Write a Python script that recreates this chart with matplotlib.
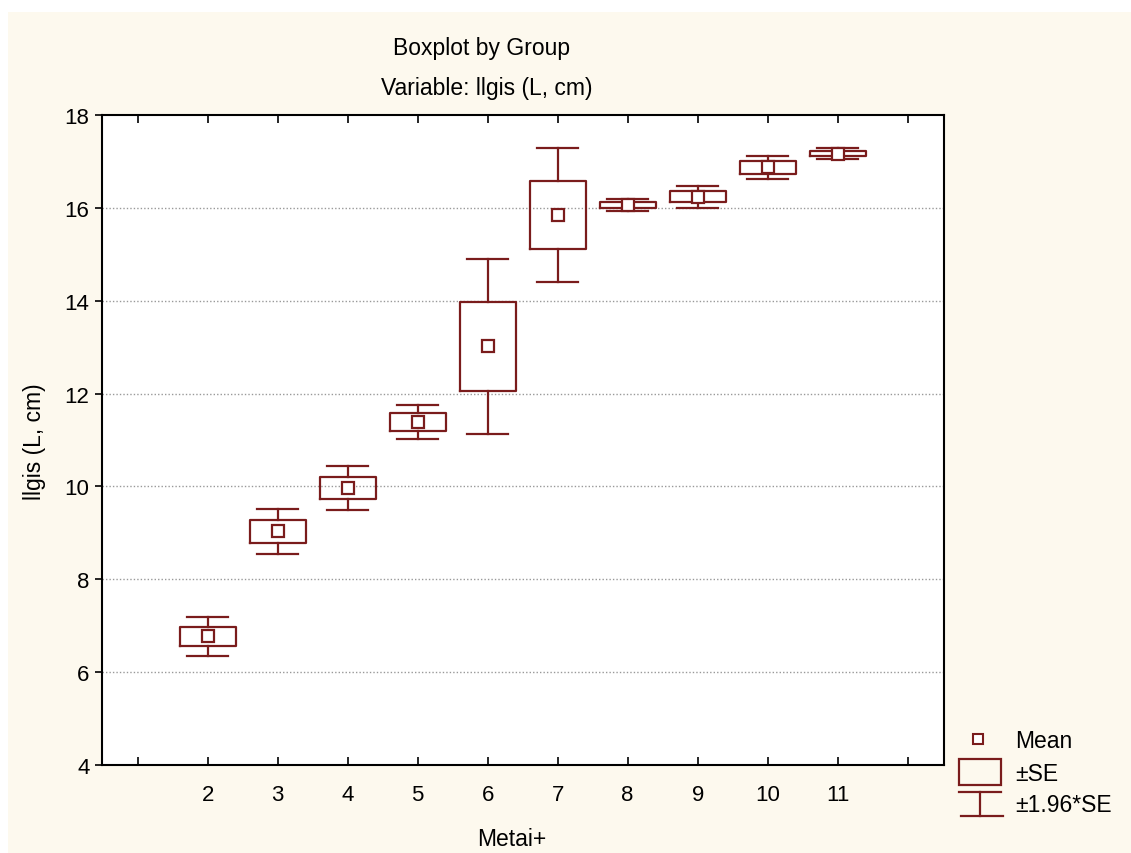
import matplotlib
matplotlib.use("Agg")
import matplotlib.pyplot as plt
from matplotlib.patches import Rectangle
from matplotlib.lines import Line2D

plt.rcParams['font.family'] = ['Liberation Sans', 'DejaVu Sans']

# data: group means and standard errors
groups = [2, 3, 4, 5, 6, 7, 8, 9, 10, 11]
means = [6.77, 9.03, 9.97, 11.39, 13.02, 15.84, 16.06, 16.24, 16.87, 17.17]
se = [0.21, 0.25, 0.24, 0.19, 0.96, 0.735, 0.07, 0.12, 0.13, 0.06]

title = "Boxplot by Group"
subtitle = "Variable: llgis (L, cm)"
xlabel = "Metai+"
ylabel = "llgis (L, cm)"

col = '#7a1c1c'
W, H = 1131, 854

fig = plt.figure(figsize=(W / 100, H / 100), dpi=100, facecolor='white')
fig.patches.append(Rectangle((8 / W, 0), 1, 1 - 13 / H, transform=fig.transFigure,
                             facecolor='#fdf9ee', edgecolor='none', zorder=-10))

ax = fig.add_axes([102 / W, (H - 766) / H, (944 - 102) / W, (766 - 116) / H])
ax.set_facecolor('white')

stats = []
for g, m, s in zip(groups, means, se):
    stats.append(dict(med=m, mean=m, q1=m - s, q3=m + s,
                      whislo=m - 1.96 * s, whishi=m + 1.96 * s, fliers=[]))

ax.bxp(stats, positions=groups, widths=0.8, capwidths=0.59, showmeans=True,
       showfliers=False, manage_ticks=False,
       boxprops=dict(color=col, linewidth=1.6),
       whiskerprops=dict(color=col, linewidth=1.6),
       capprops=dict(color=col, linewidth=1.6),
       medianprops=dict(linewidth=0),
       meanprops=dict(marker='s', markerfacecolor='white', markeredgecolor=col,
                      markersize=9, markeredgewidth=1.6))

ax.set_xlim(0.49, 12.52)
ax.set_ylim(4, 18)
ax.set_yticks(range(4, 19, 2))
ax.set_xticks(range(1, 13))
ax.set_xticklabels([''] + [str(g) for g in groups] + [''])
for y in range(6, 18, 2):
    ax.axhline(y, color='#999999', linestyle=(0, (1, 1.5)), linewidth=1, zorder=0)

for sp in ax.spines.values():
    sp.set_color('black')
    sp.set_linewidth(1.5)
ax.tick_params(axis='x', direction='in', top=True, bottom=True, length=6,
               width=1.2, labelsize=16, pad=14)
ax.tick_params(axis='y', direction='out', length=5, width=1.2, labelsize=16, pad=4)

fig.text(482 / W, 1 - 48 / H, title, ha='center', va='center', fontsize=16.5)
fig.text(487 / W, 1 - 88 / H, subtitle, ha='center', va='center', fontsize=16.5)
fig.text(512 / W, 1 - 840 / H, xlabel, ha='center', va='center', fontsize=16.5)
fig.text(35 / W, 1 - 442 / H, ylabel, ha='center', va='center', fontsize=16.5,
         rotation=90)

# legend drawn in pixel space
lax = fig.add_axes([0, 0, 1, 1])
lax.set_xlim(0, W)
lax.set_ylim(H, 0)
lax.axis('off')
lax.add_line(Line2D([978], [740], marker='s', markersize=7, markerfacecolor='white',
                    markeredgecolor=col, markeredgewidth=1.5, linestyle='none'))
lax.add_patch(Rectangle((959, 760), 42, 26, facecolor='none', edgecolor=col,
                        linewidth=1.6))
lax.add_line(Line2D([959, 1001], [793, 793], color=col, linewidth=1.6))
lax.add_line(Line2D([980, 980], [793, 817], color=col, linewidth=1.6))
lax.add_line(Line2D([961, 1003], [817, 817], color=col, linewidth=1.6))
lax.text(1015, 742, "Mean", ha='left', va='center', fontsize=16.5)
lax.text(1015, 775, "\u00b1SE", ha='left', va='center', fontsize=16.5)
lax.text(1015, 806, "\u00b11.96*SE", ha='left', va='center', fontsize=16.5)

fig.savefig('out.png', dpi=100, facecolor=fig.get_facecolor())
